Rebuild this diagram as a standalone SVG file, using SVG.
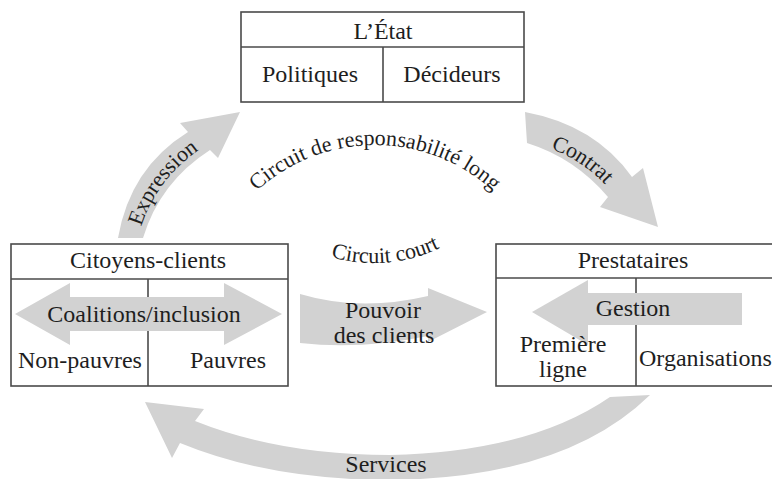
<svg xmlns="http://www.w3.org/2000/svg" width="772" height="479" viewBox="0 0 772 479">
<style>
.box{fill:#fff;stroke:#4a4a4a;stroke-width:1.6}
.ln{stroke:#4a4a4a;stroke-width:1.6;fill:none}
.arr{fill:#d2d2d2;stroke:none}
text{font-family:"Liberation Serif","Times New Roman",serif;fill:#1e1e1e}
.t24{font-size:24px}
.t22{font-size:22px}
.m{text-anchor:middle}
</style>
<defs>
<path id="pLong" d="M210.6,260.1 A175,175 0 0 1 539.4,260.1"/>
<path id="pCourt" d="M276.1,227.1 A151,151 0 0 0 489.1,209.8"/>
<path id="pExpr" d="M138,237 Q153,178 208,144"/>
<path id="pContrat" d="M528,142 Q587,155 620,203"/>
</defs>

<g id="connectors">
  <path id="expression" class="arr" d="M118,238 Q130,168 188,132 L180,123 L240,112 L218,158 L210,150 Q160,182 143,238 Z"/>
  <path id="contrat" class="arr" d="M525,112 Q595,125 632,177 L643,168 L658,227 L600,207 L608,197 Q575,158 527,143 Z"/>
  <path id="services" class="arr" d="M650,395 Q565,478 390,480 Q270,480 180,443 L172,458 L145,402 L204,409 L195,421 Q280,455 390,455 Q530,452 610,397 Z"/>
  <path id="pouvoir" class="arr" d="M300,294 Q360,312 428,296 L428,288 L487,312 L428,342 L428,336 Q360,350 300,343 Z"/>
  <text class="t22"><textPath href="#pExpr" startOffset="50%" text-anchor="middle">Expression</textPath></text>
  <text class="t22"><textPath href="#pContrat" startOffset="50%" text-anchor="middle">Contrat</textPath></text>
  <text class="t24 m" x="386" y="472">Services</text>
  <text class="t24 m" x="383" y="318">Pouvoir</text>
  <text class="t24 m" x="384" y="343">des clients</text>
  <text class="t22"><textPath href="#pLong" startOffset="50%" text-anchor="middle">Circuit de responsabilité long</textPath></text>
  <text class="t22"><textPath href="#pCourt" startOffset="50%" text-anchor="middle">Circuit court</textPath></text>
</g>

<g id="etat">
  <rect class="box" x="241" y="12" width="283" height="90"/>
  <line class="ln" x1="241" y1="47" x2="524" y2="47"/>
  <line class="ln" x1="383" y1="47" x2="383" y2="102"/>
  <text class="t24 m" x="383" y="39">L’État</text>
  <text class="t24 m" x="310" y="82">Politiques</text>
  <text class="t24 m" x="452" y="82">Décideurs</text>
</g>

<g id="citoyens">
  <rect class="box" x="11" y="244" width="277" height="142"/>
  <line class="ln" x1="11" y1="279" x2="288" y2="279"/>
  <line class="ln" x1="148" y1="279" x2="148" y2="386"/>
  <path class="arr" d="M15,314 L70,283 L70,297 L224,297 L224,283 L282,314 L224,345 L224,331 L70,331 L70,345 Z"/>
  <text class="t24 m" x="148" y="268">Citoyens-clients</text>
  <text class="t24 m" x="144" y="322">Coalitions/inclusion</text>
  <text class="t24" x="18" y="368">Non-pauvres</text>
  <text class="t24 m" x="228" y="368">Pauvres</text>
</g>

<g id="prestataires">
  <rect class="box" x="496" y="244" width="284" height="142"/>
  <line class="ln" x1="496" y1="278" x2="780" y2="278"/>
  <line class="ln" x1="636" y1="278" x2="636" y2="386"/>
  <path class="arr" d="M532,312 L588,280 L588,293 L742,293 L742,325 L588,325 L588,345 Z"/>
  <text class="t24 m" x="633" y="268">Prestataires</text>
  <text class="t24 m" x="633" y="316">Gestion</text>
  <text class="t24 m" x="563" y="352">Première</text>
  <text class="t24 m" x="563" y="377">ligne</text>
  <text class="t24" x="639" y="366">Organisations</text>
</g>
</svg>
